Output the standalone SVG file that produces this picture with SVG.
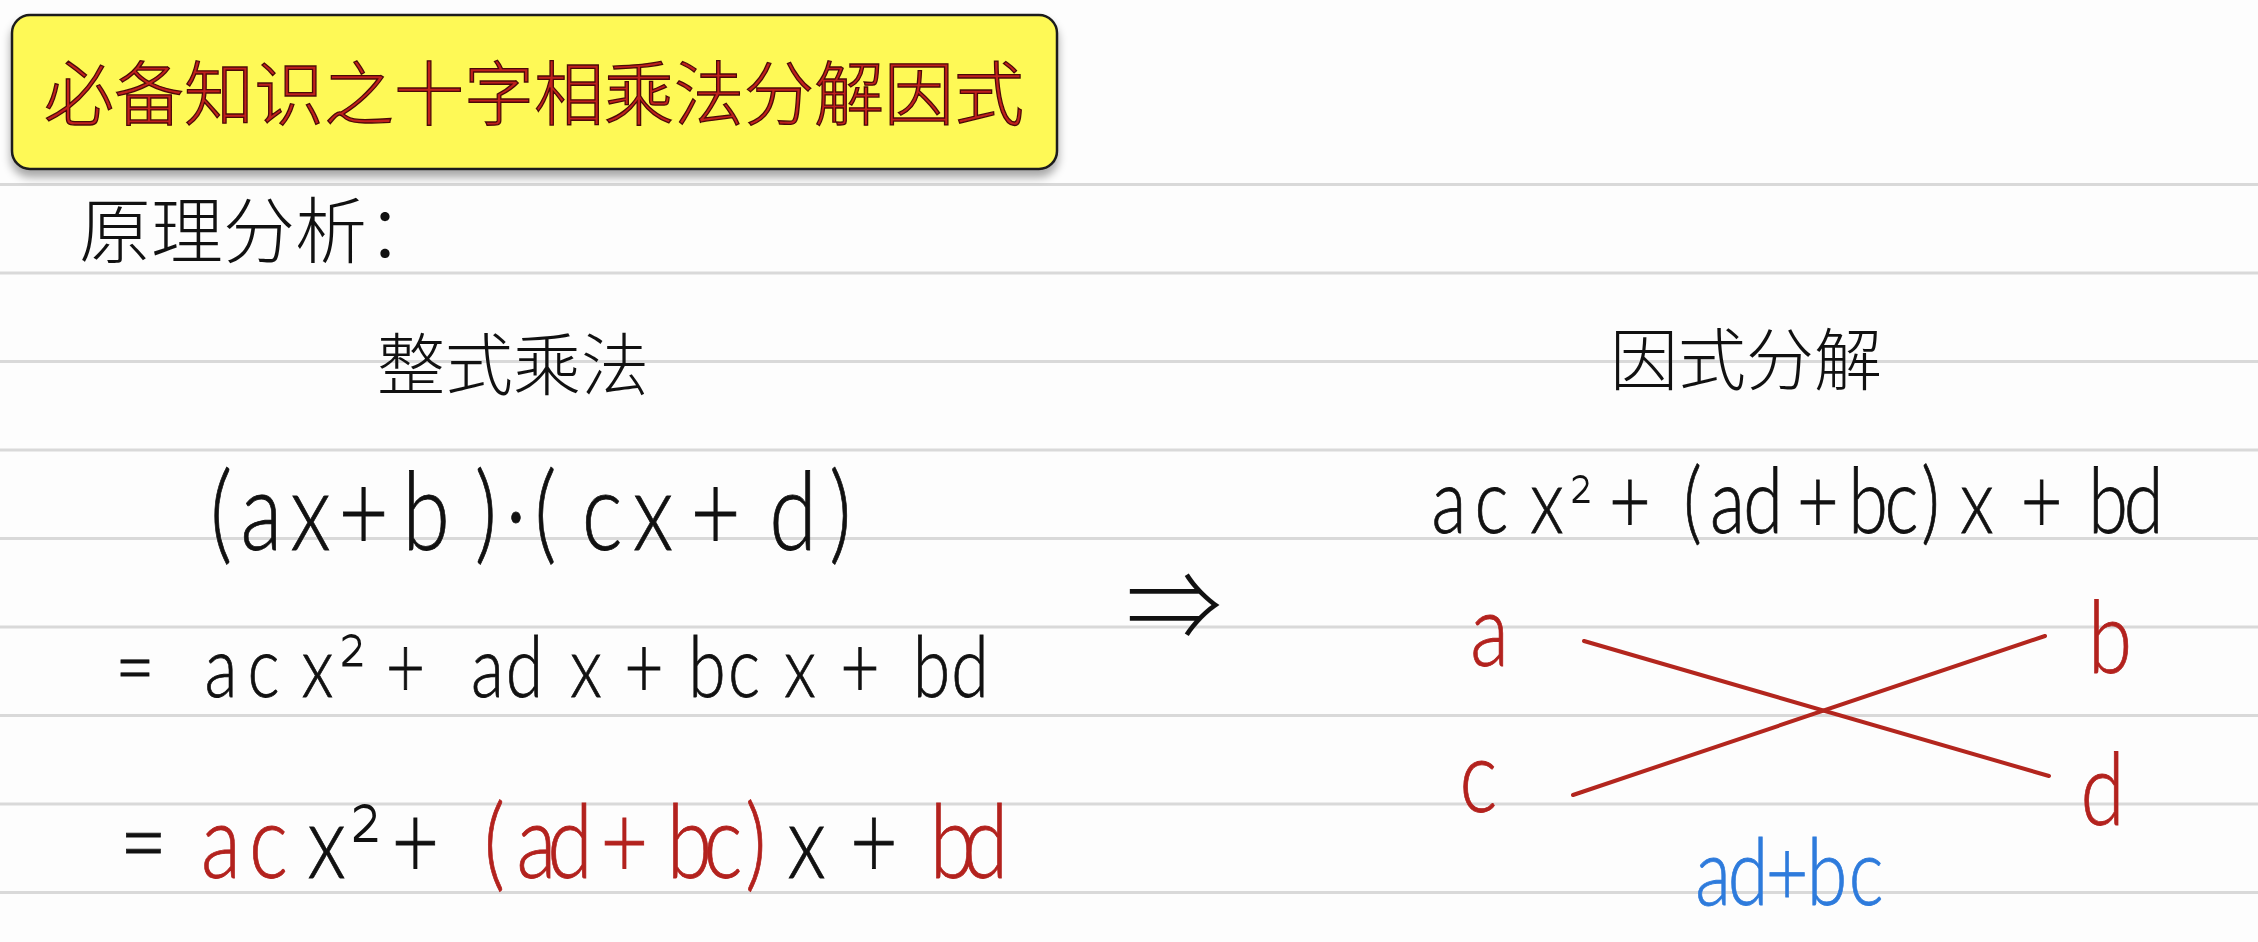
<svg xmlns="http://www.w3.org/2000/svg" width="2258" height="942" viewBox="0 0 2258 942">
<defs>
<filter id="shadow" x="-5%" y="-20%" width="110%" height="150%">
<feGaussianBlur in="SourceAlpha" stdDeviation="5"/>
<feOffset dx="0" dy="7" result="b"/>
<feComponentTransfer><feFuncA type="linear" slope="0.35"/></feComponentTransfer>
<feMerge><feMergeNode/><feMergeNode in="SourceGraphic"/></feMerge>
</filter>
</defs>
<style>
.rule{stroke:#d9d9d9;stroke-width:3}
.cjk{font-family:"Noto Sans CJK SC","Noto Sans CJK JP",sans-serif;font-weight:300;fill:#111}
.m{font-family:Lato,"Open Sans","DejaVu Sans",sans-serif;font-weight:300;fill:#111;stroke:#111;stroke-width:0.8;text-anchor:middle}
.sup{font-family:"DejaVu Sans",sans-serif;stroke-width:0}
.red{fill:#b3221e;stroke:#b3221e}
.blue{fill:#2e7bdc;stroke:#2e7bdc}
.cross{stroke:#b3261e;stroke-width:4;stroke-linecap:round;fill:none}
</style>
<rect width="2258" height="942" fill="#fdfdfd"/>
<g id="rules">
<line class="rule" x1="0" y1="184.5" x2="2258" y2="184.5"/>
<line class="rule" x1="0" y1="273" x2="2258" y2="273"/>
<line class="rule" x1="0" y1="361.5" x2="2258" y2="361.5"/>
<line class="rule" x1="0" y1="450" x2="2258" y2="450"/>
<line class="rule" x1="0" y1="538.5" x2="2258" y2="538.5"/>
<line class="rule" x1="0" y1="627" x2="2258" y2="627"/>
<line class="rule" x1="0" y1="715.5" x2="2258" y2="715.5"/>
<line class="rule" x1="0" y1="804" x2="2258" y2="804"/>
<line class="rule" x1="0" y1="892.5" x2="2258" y2="892.5"/>
</g>
<g id="title">
<rect x="12" y="15" width="1045" height="154" rx="18" fill="#fef956" stroke="#1e1e1e" stroke-width="2.5" filter="url(#shadow)"/>
<text x="534" y="120" font-family="'Noto Sans CJK SC',sans-serif" font-weight="300" font-size="70" text-anchor="middle" fill="#c0201c" stroke="#4a0808" stroke-width="1.3">必备知识之十字相乘法分解因式</text>
</g>
<g id="label-principle"><text class="cjk" x="79" y="257" font-size="72">原理分析：</text></g>
<g id="label-multiply"><text class="cjk" x="377" y="390" font-size="68">整式乘法</text></g>
<g id="label-factor"><text class="cjk" x="1610" y="385" font-size="68">因式分解</text></g>
<g id="eq1"><text class="m" font-size="108" transform="scale(0.8 1)" x="276.3 326.9 388.1 454.4 532.5 607.5 645 681.9 752.5 816.3 894.4 991.3 1050.6" y="550">(ax+b)·(cx+d)</text></g>
<g id="eq2"><text class="m" font-size="85" transform="scale(0.8 1)" y="697"><tspan x="168.75 276.25 329.4 396.9">=acx</tspan><tspan class="sup" x="441" font-size="85">²</tspan><tspan x="506.9 609.4 655.6 732.5 805 883.75 930 1000 1075 1164.4 1212.5">+adx+bcx+bd</tspan></text></g>
<g id="eq3"><text class="m" font-size="103" transform="scale(0.8 1)" y="878"><tspan x="179.4">=</tspan><tspan class="red" x="276.25 335.6">ac</tspan><tspan x="408.1">x</tspan><tspan class="sup" x="458" font-size="100">²</tspan><tspan x="519.4">+</tspan><tspan class="red" x="618.1 670.6 712.5 780.6 861.9 903.75 945">(ad+bc)</tspan><tspan x="1008.1 1092.5">x+</tspan><tspan class="red" x="1190.6 1231.9">bd</tspan></text></g>
<g id="implies"><text x="1174" y="640" font-family="'Noto Sans CJK SC',sans-serif" font-weight="300" font-size="96" text-anchor="middle" fill="#111">⇒</text></g>
<g id="eq-right"><text class="m" font-size="90" transform="scale(0.8 1)" y="533"><tspan x="1811.25 1864.4 1933.75">acx</tspan><tspan class="sup" x="1977" y="528" font-size="72">²</tspan><tspan y="533" x="2037.5 2115.6 2159.4 2203.75 2272.5 2335 2376.9 2413.1 2471.25 2551.9 2635 2679.4">+(ad+bc)x+bd</tspan></text></g>
<g id="node-a"><text class="m red" font-size="100" transform="scale(0.8 1)" x="1861.9" y="666">a</text></g>
<g id="node-b"><text class="m red" font-size="100" transform="scale(0.8 1)" x="2637.5" y="673">b</text></g>
<g id="node-c"><text class="m red" font-size="100" transform="scale(0.8 1)" x="1848.1" y="812">c</text></g>
<g id="node-d"><text class="m red" font-size="100" transform="scale(0.8 1)" x="2628.1" y="825">d</text></g>
<g id="connectors">
<line class="cross" x1="1584" y1="641" x2="2049" y2="776"/>
<line class="cross" x1="1573" y1="795" x2="2045" y2="636"/>
</g>
<g id="label-sum"><text class="m blue" font-size="92" transform="scale(0.8 1)" x="2141.25 2185 2233.75 2283.75 2332.5" y="905">ad+bc</text></g>
</svg>
